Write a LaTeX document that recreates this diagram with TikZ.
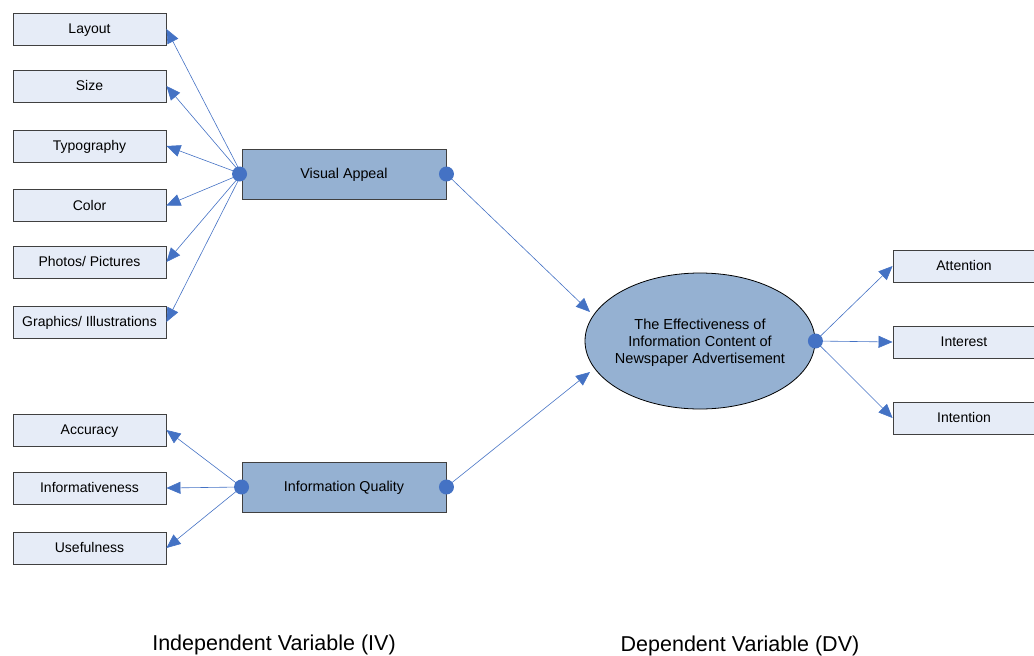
\documentclass[tikz,border=0pt]{standalone}
\usepackage{fontspec}
\setmainfont{Liberation Sans}
\usetikzlibrary{shapes.geometric,arrows.meta}
\definecolor{conn}{RGB}{68,114,196}
\definecolor{lightbox}{RGB}{230,236,247}
\definecolor{mainbox}{RGB}{149,177,210}
\definecolor{edgegray}{RGB}{64,64,64}
\begin{document}
\begin{tikzpicture}[x=1pt,y=-1pt,
  small/.style={draw=edgegray,line width=0.9pt,fill=lightbox,minimum width=153pt,minimum height=32pt,inner sep=0pt,text height=10.5pt,text depth=1pt,font=\fontsize{14}{16}\selectfont},
  rbox/.style={small,minimum width=142pt},
  big/.style={draw=edgegray,line width=0.9pt,fill=mainbox,minimum width=204pt,minimum height=50pt,inner sep=0pt,text height=10.5pt,text depth=1pt,font=\fontsize{14.3}{16}\selectfont},
  dot/.style={circle,fill=conn,minimum size=15pt,inner sep=0pt},
  arr/.style={draw=conn,line width=0.6pt,-{Triangle[length=14pt,width=12pt]}},
  caption/.style={font=\fontsize{21.5}{24}\selectfont}
]
\useasboundingbox (0,0) rectangle (1034,656);
% left boxes
\node[small] (layout) at (89.5,29) {Layout};
\node[small] (size) at (89.5,86) {Size};
\node[small] (typo) at (89.5,146) {Typography};
\node[small] (color) at (89.5,205.5) {Color};
\node[small] (photos) at (89.5,262) {Photos/ Pictures};
\node[small] (graph) at (89.5,322) {Graphics/ Illustrations};
\node[small] (acc) at (89.5,430) {Accuracy};
\node[small] (inf) at (89.5,488) {Informativeness};
\node[small] (use) at (89.5,548) {Usefulness};
% main boxes
\node[big] (va) at (344,174) {Visual Appeal};
\node[big] (iq) at (344,487) {Information Quality};
% ellipse
\node[ellipse,draw=black,line width=0.8pt,fill=mainbox,minimum width=230pt,minimum height=136pt,inner sep=0pt] (dv) at (700,341) {};
\node[align=center,font=\fontsize{14.5}{17}\selectfont,inner sep=0pt] (dvt) at ([yshift=-2pt]dv.center) {The Effectiveness of\\Information Content of\\Newspaper Advertisement};
% right boxes
\node[rbox] (att) at (964,266) {Attention};
\node[rbox] (int) at (964,342) {Interest};
\node[rbox] (inten) at (964,418) {Intention};
% connectors
\foreach \t in {layout,size,typo,color,photos,graph}
  \draw[arr] (va.west) -- (\t.east);
\foreach \t in {acc,inf,use}
  \draw[arr] (iq.west) -- (\t.east);
\coordinate (dvin1) at (590,312);
\coordinate (dvin2) at (590,372);
\draw[arr] (va.east) -- (dvin1);
\draw[arr] (iq.east) -- (dvin2);
\foreach \t in {att,int,inten}
  \draw[arr] (dv.east) -- (\t.west);
% dots
\node[dot] (d1) at ([xshift=-2pt]va.west) {};
\node[dot] (d2) at (va.east) {};
\node[dot] (d3) at (iq.west) {};
\node[dot] (d4) at (iq.east) {};
\node[dot] (d5) at (dv.east) {};
% bottom labels
\node[caption] (ivl) at (274,645) {Independent Variable (IV)};
\node[caption] (dvl) at (740,646) {Dependent Variable (DV)};
\end{tikzpicture}
\end{document}
